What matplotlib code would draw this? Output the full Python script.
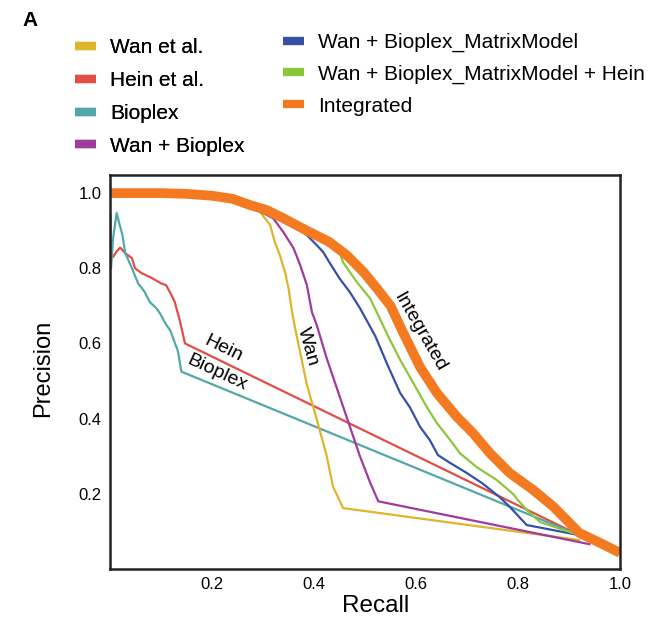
import matplotlib
matplotlib.use("Agg")
import matplotlib.pyplot as plt
from matplotlib.lines import Line2D

plt.rcParams['font.family'] = ['Liberation Sans', 'DejaVu Sans']

# ---------------- data ----------------
# common high-precision head shared by all Wan-based curves
head_x = [0, 0.10, 0.15, 0.20, 0.24, 0.275]
head_y = [1.0, 1.0, 0.998, 0.993, 0.985, 0.968]

integrated_x = [0.307, 0.34, 0.386, 0.43, 0.464, 0.497, 0.523, 0.55, 0.575, 0.608, 0.641,
                0.68, 0.712, 0.745, 0.784, 0.83, 0.87, 0.92, 0.96, 1.0]
integrated_y = [0.955, 0.933, 0.90, 0.87, 0.835, 0.79, 0.747, 0.70, 0.628, 0.537, 0.468,
                0.405, 0.361, 0.308, 0.255, 0.21, 0.165, 0.096, 0.07, 0.043]

green_x = [0.307, 0.34, 0.386, 0.43, 0.445, 0.457, 0.484, 0.51, 0.523, 0.545, 0.569, 0.595,
           0.621, 0.641, 0.667, 0.686, 0.72, 0.758, 0.79, 0.80, 0.817, 0.843, 0.92]
green_y = [0.955, 0.933, 0.90, 0.87, 0.862, 0.816, 0.763, 0.72, 0.683, 0.62, 0.556, 0.494,
           0.431, 0.388, 0.343, 0.308, 0.27, 0.237, 0.20, 0.183, 0.157, 0.125, 0.09]

blue_x = [0.307, 0.34, 0.386, 0.405, 0.418, 0.43, 0.45, 0.47, 0.49, 0.52, 0.545, 0.569, 0.588,
          0.608, 0.627, 0.643, 0.667, 0.70, 0.73, 0.765, 0.784, 0.817, 0.92]
blue_y = [0.955, 0.933, 0.888, 0.862, 0.843, 0.816, 0.773, 0.737, 0.694, 0.62, 0.54, 0.468, 0.43,
          0.378, 0.343, 0.303, 0.282, 0.255, 0.228, 0.19, 0.165, 0.117, 0.09]

wanbio_x = [0.30, 0.32, 0.34, 0.36, 0.373, 0.386, 0.396, 0.405, 0.425, 0.45, 0.465, 0.49,
            0.51, 0.526, 0.94]
wanbio_y = [0.947, 0.933, 0.896, 0.853, 0.808, 0.755, 0.683, 0.65, 0.56, 0.46, 0.40, 0.30,
            0.23, 0.18, 0.066]

wan_x = [0.294, 0.314, 0.323, 0.333, 0.343, 0.35, 0.357, 0.363, 0.373, 0.386, 0.405, 0.425,
         0.437, 0.457, 0.92]
wan_y = [0.95, 0.915, 0.87, 0.835, 0.79, 0.747, 0.683, 0.64, 0.575, 0.49, 0.40, 0.30,
         0.22, 0.162, 0.077]

hein_x = [0.001, 0.001, 0.006, 0.013, 0.02, 0.03, 0.043, 0.049, 0.062, 0.082, 0.10, 0.11,
          0.12, 0.127, 0.137, 0.147, 0.92]
hein_y = [0.94, 0.83, 0.83, 0.845, 0.855, 0.84, 0.827, 0.80, 0.787, 0.774, 0.76, 0.755,
          0.73, 0.71, 0.66, 0.60, 0.09]

bioplex_x = [0.002, 0.006, 0.013, 0.018, 0.024, 0.03, 0.043, 0.055, 0.068, 0.078, 0.09, 0.098,
             0.11, 0.118, 0.133, 0.14, 0.92]
bioplex_y = [0.80, 0.88, 0.947, 0.92, 0.89, 0.84, 0.80, 0.76, 0.737, 0.71, 0.695, 0.68,
             0.65, 0.635, 0.58, 0.525, 0.09]

x_ticks = [0.2, 0.4, 0.6, 0.8, 1.0]
y_ticks = [0.2, 0.4, 0.6, 0.8, 1.0]

c_wan = '#DDB52B'
c_hein = '#E04E47'
c_bioplex = '#52A8A8'
c_wanbio = '#A23A9E'
c_blue = '#3550A6'
c_green = '#8CC63F'
c_orange = '#F47A22'

# ---------------- figure ----------------
fig = plt.figure(figsize=(6.53, 6.23), dpi=100)
ax = fig.add_axes([0.1685, 0.0867, 0.781, 0.6323])

lw = 1.6
ax.plot(hein_x, hein_y, color=c_hein, lw=lw)
ax.plot(bioplex_x, bioplex_y, color=c_bioplex, lw=lw)
ax.plot(head_x + wan_x, head_y + wan_y, color=c_wan, lw=lw)
ax.plot(head_x + wanbio_x, head_y + wanbio_y, color=c_wanbio, lw=lw)
ax.plot(head_x + blue_x, head_y + blue_y, color=c_blue, lw=lw)
ax.plot(head_x + green_x, head_y + green_y, color=c_green, lw=lw)
ax.plot(head_x + integrated_x, head_y + integrated_y, color=c_orange, lw=7,
        solid_capstyle='butt', solid_joinstyle='round')

ax.set_xlim(0, 1.0)
ax.set_ylim(0, 1.048)
ax.set_xticks(x_ticks)
ax.set_yticks(y_ticks)
ax.set_xticklabels([f'{v:.1f}' for v in x_ticks])
ax.set_yticklabels([f'{v:.1f}' for v in y_ticks])
ax.tick_params(axis='both', length=0, labelsize=12)
ax.tick_params(axis='y', pad=6)
ax.tick_params(axis='x', pad=6)
for s in ax.spines.values():
    s.set_linewidth(1.8)
    s.set_color('#222222')
ax.set_xlabel('Recall', fontsize=17.5)
ax.set_ylabel('Precision', fontsize=17)
ax.xaxis.set_label_coords(0.52, -0.066)
ax.yaxis.set_label_coords(-0.11, 0.51)

# in-plot labels
ax.text(0.222, 0.585, 'Hein', fontsize=14, rotation=-26, ha='center', va='center')
ax.text(0.21, 0.523, 'Bioplex', fontsize=14, rotation=-25, ha='center', va='center')
ax.text(0.388, 0.590, 'Wan', fontsize=14, rotation=-74, ha='center', va='center')
ax.text(0.607, 0.630, 'Integrated', fontsize=14, rotation=-60, ha='center', va='center')

fig.text(0.046, 0.967, 'A', fontsize=15, fontweight='bold', ha='center', va='center')

def handle(c):
    return Line2D([0], [0], color=c, lw=6, solid_capstyle='butt')

leg_kw = dict(loc='upper left', frameon=False, fontsize=15, handlelength=1.0,
              handletextpad=0.67, borderaxespad=0, borderpad=0)
leg1 = fig.legend([handle(c_wan), handle(c_hein), handle(c_bioplex), handle(c_wanbio)],
                  ['Wan et al.', 'Hein et al.', 'Bioplex', 'Wan + Bioplex'],
                  bbox_to_anchor=(0.115, 0.9385), labelspacing=0.66, **leg_kw)
fig.add_artist(leg1)
leg2 = fig.legend([handle(c_blue), handle(c_green), handle(c_orange)],
                  ['Wan + Bioplex_MatrixModel', 'Wan + Bioplex_MatrixModel + Hein', 'Integrated'],
                  bbox_to_anchor=(0.4334, 0.947), labelspacing=0.6, **leg_kw)

fig.savefig('out.png', dpi=100)
